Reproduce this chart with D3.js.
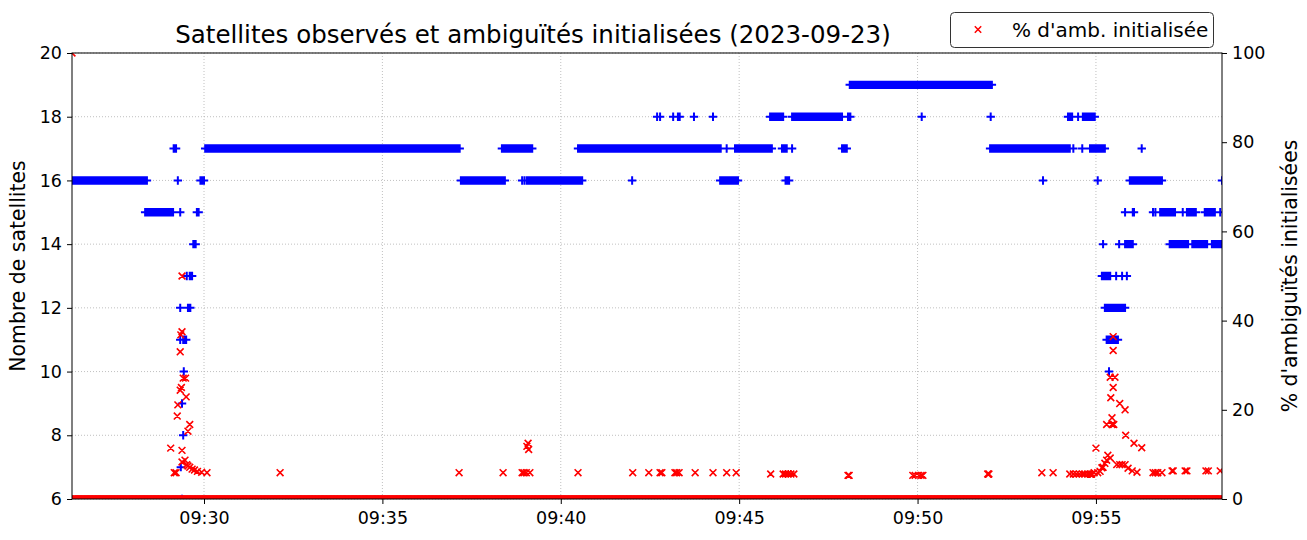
<!DOCTYPE html>
<html><head><meta charset="utf-8">
<script src="https://cdn.jsdelivr.net/npm/d3@7"></script>
<style>
body{margin:0;background:#fff;}
text{font-family:"DejaVu Sans",sans-serif;fill:#000;}
</style></head>
<body>
<svg id="chart" width="1307" height="540"></svg>
<script>
// ---------------- DATA ----------------
const title = "Satellites observés et ambiguïtés initialisées (2023-09-23)";
const timeDomain = ["09:26:18", "09:58:32"];
const xTickLabels = ["09:30:00", "09:35:00", "09:40:00", "09:45:00", "09:50:00", "09:55:00"];
const leftTicks = [6, 8, 10, 12, 14, 16, 18, 20];
const rightTicks = [0, 20, 40, 60, 80, 100];

// satellites observed: runs of constant count [start, end, count] (1 s epochs)
const satRuns = [
  ["09:26:18","09:28:24",16],["09:28:21","09:29:08",15],["09:29:09","09:29:13",17],
  ["09:29:16","09:29:16",16],["09:29:20","09:29:20",15],["09:29:48","09:29:51",15],
  ["09:29:54","09:30:00",16],["09:29:42","09:29:46",14],["09:29:31","09:29:31",13],
  ["09:29:36","09:29:40",13],["09:29:20","09:29:20",12],["09:29:33","09:29:37",12],
  ["09:29:20","09:29:20",11],["09:29:25","09:29:30",11],["09:29:26","09:29:26",10],
  ["09:29:23","09:29:23",9],["09:29:25","09:29:25",8],["09:29:21","09:29:21",7],
  ["09:29:23","09:29:23",6],
  ["09:30:02","09:37:10",17],["09:37:12","09:38:26",16],["09:38:21","09:39:12",17],
  ["09:38:55","09:38:55",16],["09:38:59","09:38:59",16],["09:39:03","09:40:36",16],
  ["09:40:29","09:44:29",17],["09:44:39","09:44:39",17],["09:44:53","09:45:55",17],
  ["09:46:12","09:46:20",17],["09:46:29","09:46:29",17],["09:47:53","09:48:01",17],
  ["09:42:00","09:42:00",16],["09:44:28","09:44:58",16],["09:46:18","09:46:24",16],
  ["09:42:42","09:42:42",18],["09:42:47","09:42:47",18],["09:43:09","09:43:09",18],
  ["09:43:17","09:43:17",18],["09:43:20","09:43:20",18],["09:43:44","09:43:44",18],
  ["09:44:16","09:44:16",18],["09:45:52","09:46:14",18],["09:46:29","09:47:53",18],
  ["09:48:03","09:48:07",18],
  ["09:48:06","09:52:05",19],["09:50:07","09:50:07",18],["09:52:03","09:52:03",18],
  ["09:52:02","09:54:16",17],["09:54:22","09:54:22",17],["09:54:37","09:54:37",17],
  ["09:54:50","09:55:15",17],["09:56:17","09:56:17",17],
  ["09:53:31","09:53:31",16],["09:55:03","09:55:03",16],["09:55:57","09:56:51",16],
  ["09:58:32","09:58:32",16],
  ["09:54:13","09:54:20",18],["09:54:30","09:54:30",18],["09:54:38","09:54:58",18],
  ["09:55:49","09:55:49",15],["09:56:02","09:56:04",15],["09:56:36","09:56:36",15],
  ["09:56:40","09:56:40",15],["09:56:48","09:57:13",15],["09:57:26","09:57:26",15],
  ["09:57:33","09:57:48",15],["09:58:03","09:58:20",15],["09:58:29","09:58:29",15],
  ["09:55:12","09:55:12",14],["09:55:39","09:55:39",14],["09:55:49","09:56:02",14],
  ["09:57:04","09:57:35",14],["09:57:42","09:58:07",14],["09:58:15","09:58:32",14],
  ["09:55:10","09:55:24",13],["09:55:34","09:55:34",13],["09:55:44","09:55:44",13],
  ["09:55:52","09:55:52",13],["09:55:15","09:55:49",12],["09:55:18","09:55:37",11],
  ["09:55:22","09:55:22",10]
];

// ambiguities initialised (%): runs at 0 % and individual non-zero epochs
const ambZeroRuns = [["09:26:19","09:58:32",0]];
const ambPoints = [
  ["09:26:18",100],
  ["09:29:04",11.4],["09:29:10",5.9],["09:29:13",5.9],["09:29:15",18.6],["09:29:16",21.1],
  ["09:29:20",24.4],["09:29:20",33.0],["09:29:21",36.8],["09:29:23",37.5],["09:29:23",50.0],
  ["09:29:25",27.1],["09:29:29",27.1],["09:29:22",25.0],["09:29:30",22.9],["09:29:33",15.2],
  ["09:29:36",16.7],["09:29:23",10.9],["09:29:23",8.3],["09:29:28",8.7],["09:29:31",7.7],
  ["09:29:33",7.4],["09:29:36",7.1],["09:29:40",6.7],["09:29:44",6.5],["09:29:49",6.2],
  ["09:29:56",6.0],["09:30:05",5.9],
  ["09:32:08",5.9],["09:37:09",5.9],["09:38:23",5.9],["09:38:55",5.9],["09:38:58",5.9],
  ["09:39:02",5.9],["09:39:08",5.9],["09:39:03",11.8],["09:39:05",12.5],["09:39:06",11.1],
  ["09:40:29",5.9],["09:42:01",5.9],["09:42:28",5.9],["09:42:47",5.9],["09:42:50",5.9],
  ["09:43:12",5.9],["09:43:15",5.9],["09:43:19",5.9],["09:43:46",5.9],["09:44:16",5.9],
  ["09:44:39",5.9],["09:44:55",5.9],
  ["09:45:53",5.6],["09:46:14",5.6],["09:46:18",5.6],["09:46:22",5.6],["09:46:27",5.6],
  ["09:46:32",5.6],["09:48:03",5.3],["09:48:05",5.3],
  ["09:49:52",5.3],["09:49:56",5.3],["09:50:02",5.3],["09:50:06",5.3],["09:50:09",5.3],
  ["09:51:58",5.6],["09:52:00",5.6],["09:53:29",5.9],["09:53:48",5.9],
  ["09:54:16",5.6],["09:54:22",5.6],["09:54:27",5.6],["09:54:32",5.6],["09:54:37",5.6],
  ["09:54:41",5.6],["09:54:46",5.6],["09:54:50",5.6],["09:54:53",5.6],["09:54:57",5.9],
  ["09:55:03",5.9],["09:55:00",11.4],
  ["09:55:10",7.0],["09:55:15",8.0],["09:55:20",9.8],["09:55:24",9.2],["09:55:18",8.7],
  ["09:55:12",7.1],["09:55:07",6.2],
  ["09:55:18",16.7],["09:55:27",16.7],["09:55:30",16.7],["09:55:27",18.2],
  ["09:55:29",36.4],["09:55:29",33.3],["09:55:24",27.3],["09:55:32",27.3],
  ["09:55:29",25.0],["09:55:25",22.7],["09:55:40",21.4],["09:55:49",20.0],
  ["09:55:50",14.3],["09:56:04",12.5],["09:56:17",11.5],
  ["09:55:35",7.7],["09:55:40",7.7],["09:55:44",7.7],["09:55:49",7.7],["09:55:54",6.9],
  ["09:56:01",6.3],["09:56:09",6.0],["09:56:36",5.9],["09:56:40",5.9],["09:56:44",5.9],
  ["09:56:51",5.9],["09:57:08",6.3],["09:57:10",6.3],["09:57:30",6.3],["09:57:33",6.3],
  ["09:58:05",6.3],["09:58:09",6.3],["09:58:29",6.3]
];
const legendLabel = "% d'amb. initialisée";
const leftLabel = "Nombre de satellites";
const rightLabel = "% d'ambiguïtés initialisées";

// ---------------- CHART ----------------
const parse = d3.timeParse("%H:%M:%S");
const svg = d3.select("#chart");
const m = {left: 72, right: 1222, top: 53, bottom: 499};

const x = d3.scaleTime().domain(timeDomain.map(parse)).range([m.left, m.right]);
const yL = d3.scaleLinear().domain([6, 20]).range([m.bottom, m.top]);
const yR = d3.scaleLinear().domain([0, 100]).range([m.bottom, m.top]);

function expand(runs) {
  const pts = [];
  runs.forEach(([s, e, v]) => {
    const t0 = parse(s), t1 = parse(e);
    for (let t = +t0; t <= +t1; t += 1000) pts.push([new Date(t), v]);
  });
  return pts;
}
const satPts = expand(satRuns);
const ambPts = expand(ambZeroRuns).concat(ambPoints.map(([t, v]) => [parse(t), v]));

svg.append("defs").append("clipPath").attr("id", "clip")
  .append("rect").attr("x", m.left).attr("y", m.top)
  .attr("width", m.right - m.left).attr("height", m.bottom - m.top);

// grid
const xTicks = xTickLabels.map(parse);
const grid = svg.append("g").attr("stroke", "#b0b0b0").attr("stroke-width", 0.8)
  .attr("stroke-dasharray", "1,2");
xTicks.forEach(t => grid.append("line").attr("x1", x(t)).attr("x2", x(t))
  .attr("y1", m.top).attr("y2", m.bottom));
leftTicks.forEach(v => grid.append("line").attr("x1", m.left).attr("x2", m.right)
  .attr("y1", yL(v)).attr("y2", yL(v)));

const plot = svg.append("g").attr("clip-path", "url(#clip)");

// satellites (+)
let p = "";
const hs = 4.2;
satPts.forEach(([t, v]) => {
  const cx = x(t), cy = yL(v);
  p += `M${cx - hs},${cy}h${2 * hs}M${cx},${cy - hs}v${2 * hs}`;
});
plot.append("path").attr("d", p).attr("fill", "none").attr("stroke", "#0000ff")
  .attr("stroke-width", 2);

// ambiguities (x)
let q = "";
const hx = 3.4;
ambPts.forEach(([t, v]) => {
  const cx = x(t), cy = yR(v);
  q += `M${cx - hx},${cy - hx}l${2 * hx},${2 * hx}M${cx - hx},${cy + hx}l${2 * hx},${-2 * hx}`;
});
plot.append("path").attr("d", q).attr("fill", "none").attr("stroke", "#ff0000")
  .attr("stroke-width", 1.6);

// axes
const fs = 17.5;
const gx = svg.append("g").attr("transform", `translate(0,${m.bottom})`)
  .call(d3.axisBottom(x).tickValues(xTicks).tickFormat(d3.timeFormat("%H:%M"))
    .tickSize(5).tickPadding(5));
const gl = svg.append("g").attr("transform", `translate(${m.left},0)`)
  .call(d3.axisLeft(yL).tickValues(leftTicks).tickSize(5).tickPadding(5));
const gr = svg.append("g").attr("transform", `translate(${m.right},0)`)
  .call(d3.axisRight(yR).tickValues(rightTicks).tickSize(5).tickPadding(5));
[gx, gl, gr].forEach(g => {
  g.select(".domain").remove();
  g.selectAll("line").attr("stroke", "#000").attr("stroke-width", 1);
  g.selectAll("text").attr("font-size", fs).attr("font-family", "DejaVu Sans").attr("fill", "#000");
});
gx.selectAll("text").attr("dy", "0.85em");

// frame
svg.append("rect").attr("x", m.left).attr("y", m.top)
  .attr("width", m.right - m.left).attr("height", m.bottom - m.top)
  .attr("fill", "none").attr("stroke", "#000").attr("stroke-width", 1);

// title
svg.append("text").attr("x", 533).attr("y", 43).attr("text-anchor", "middle")
  .attr("font-size", 24.5).text(title);

// axis labels
svg.append("text").attr("transform", `translate(25,${(m.top + m.bottom) / 2 - 10}) rotate(-90)`)
  .attr("text-anchor", "middle").attr("font-size", 20.4).text(leftLabel);
svg.append("text").attr("transform", `translate(1297,${(m.top + m.bottom) / 2}) rotate(-90)`)
  .attr("text-anchor", "middle").attr("font-size", 20.4).text(rightLabel);

// legend
const lg = svg.append("g");
lg.append("rect").attr("x", 950.5).attr("y", 12.5).attr("width", 263).attr("height", 35)
  .attr("rx", 4).attr("fill", "#fff").attr("stroke", "#333").attr("stroke-width", 1);
const lx = 978, ly = 29.5;
lg.append("path").attr("d", `M${lx - 3.2},${ly - 3.2}l6.4,6.4M${lx - 3.2},${ly + 3.2}l6.4,-6.4`)
  .attr("stroke", "#ff0000").attr("stroke-width", 1.5).attr("fill", "none");
lg.append("text").attr("x", 1012).attr("y", 36.5).attr("font-size", 20).text(legendLabel);
</script>
</body></html>
